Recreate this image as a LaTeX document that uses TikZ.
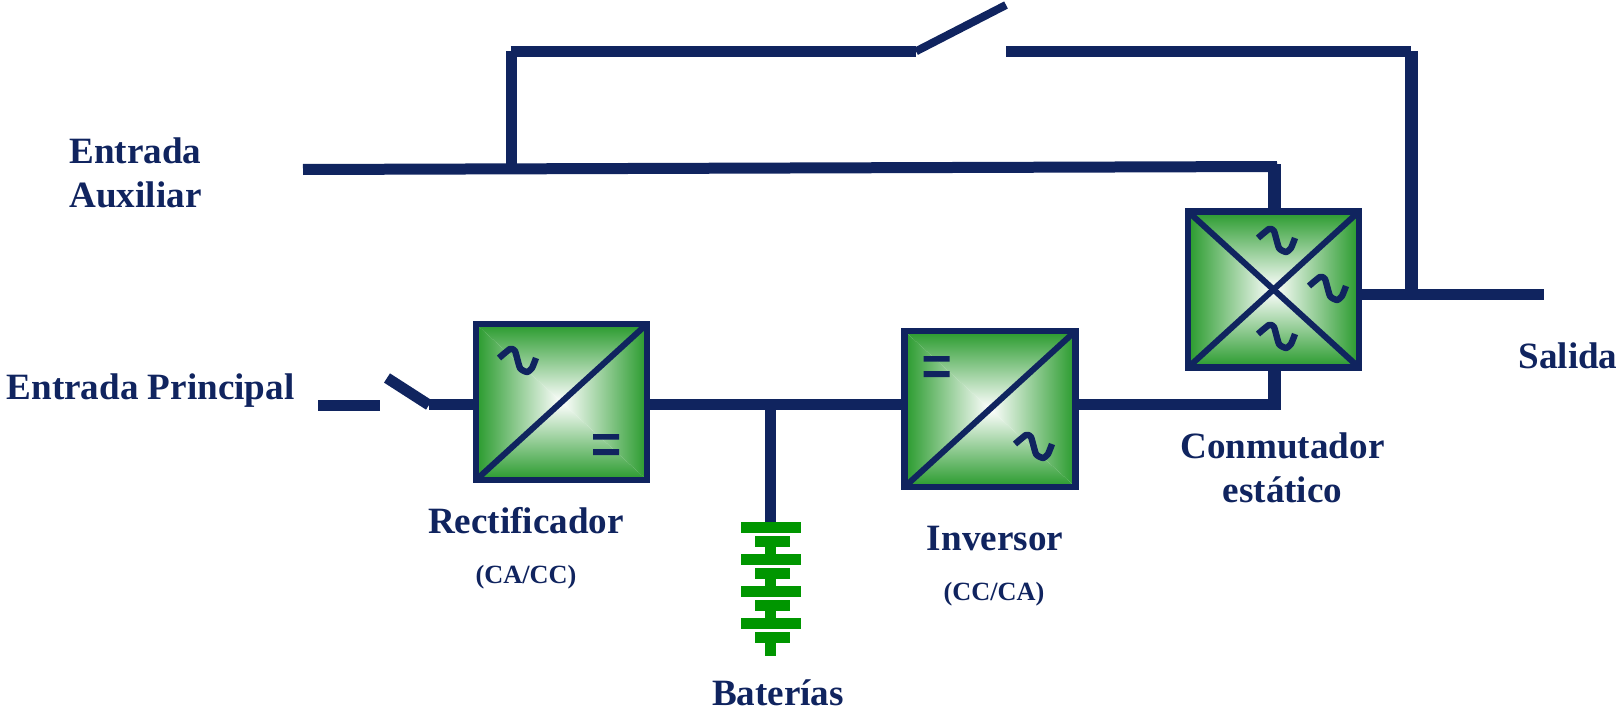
\documentclass[tikz,border=0pt]{standalone}
\usepackage{fontspec}
\setmainfont{Liberation Serif}
\definecolor{navy}{HTML}{10245F}
\definecolor{boxgreen}{HTML}{289A2C}
\colorlet{halfgreen}{boxgreen!60!white}
\definecolor{batgreen}{HTML}{009600}
\tikzset{
    wire/.style={draw=navy,line width=2.75mm},
    riser/.style={draw=navy,line width=3.25mm},
    convbox/.style={draw=navy,line width=1.6mm,outer sep=0pt,inner sep=0pt,
        minimum width=42.75mm,minimum height=39mm,
        path picture={
            \coordinate (nw) at (path picture bounding box.north west);
            \coordinate (ne) at (path picture bounding box.north east);
            \coordinate (sw) at (path picture bounding box.south west);
            \coordinate (se) at (path picture bounding box.south east);
            \coordinate (mid) at (path picture bounding box.center);
            \shade[top color=boxgreen,middle color=halfgreen,bottom color=white] (nw) -- (ne) -- (mid) -- cycle;
            \shade[top color=white,middle color=halfgreen,bottom color=boxgreen] (sw) -- (se) -- (mid) -- cycle;
            \shade[left color=boxgreen,middle color=halfgreen,right color=white] (nw) -- (sw) -- (mid) -- cycle;
            \shade[left color=white,middle color=halfgreen,right color=boxgreen] (ne) -- (se) -- (mid) -- cycle;
        }},
    diag/.style={draw=navy,line width=1.5mm},
    biglabel/.style={text=navy,font=\fontsize{26.4}{30}\selectfont\bfseries,align=center},
    smalllabel/.style={text=navy,font=\fontsize{18.7}{22}\selectfont\bfseries},
    acwave/.pic={\draw[navy,line width=1.6mm,line cap=butt,line join=round]
        plot[smooth,tension=0.35] coordinates {(-18,-2) (-7,-11) (-2,-9) (3,8) (10,12) (15,8) (19,-2)};},
    dcbars/.pic={\fill[navy] (-13,-10.5) rectangle (13,-5) (-13,4.5) rectangle (13,10.5);},
}
\begin{document}
\begin{tikzpicture}[x=0.25mm,y=-0.25mm]
    \useasboundingbox (0,0) rectangle (1619,716);
    % converters
    \node[convbox] (rect) at (561.5,402) {};
    \node[convbox] (inv) at (990,409) {};
    \node[convbox] (conm) at (1273.5,289.5) {};
    \draw[diag] (rect.south west) -- (rect.north east);
    \draw[diag] (inv.south west) -- (inv.north east);
    \draw[diag] (conm.south west) -- (conm.north east);
    \draw[diag] (conm.north west) -- (conm.south east);
    \pic at (517,360) {acwave}; \pic at (606,444.5) {dcbars};
    \pic at (936.5,366.5) {dcbars}; \pic at (1033,446) {acwave};
    \pic at (1276,240) {acwave}; \pic at (1327,288) {acwave}; \pic at (1276,336) {acwave};
    % points on the wires
    \coordinate (mainin) at (318,405);
    \coordinate (mainoff) at (380,405);
    \coordinate (swa) at (387,378);
    \coordinate (swb) at (429,405);
    \coordinate (busjoin) at (770.5,404.5);
    \coordinate (batend) at (770.5,522);
    \coordinate (auxin) at (303,169.5);
    \coordinate (auxjoin) at (511,168);
    \coordinate (auxend) at (1277,166.5);
    \coordinate (auxtop) at (1274.5,164);
    \coordinate (botend) at (1281,404.5);
    \coordinate (bottop) at (1274.5,410);
    \coordinate (bypasstop) at (511,50.7);
    \coordinate (bypass) at (510.7,51.3);
    \coordinate (swc) at (916,51.3);
    \coordinate (swd) at (1006,5);
    \coordinate (swe) at (1006,51.3);
    \coordinate (bypassr) at (1411,51.3);
    \coordinate (riserr) at (1411.5,51);
    \coordinate (outjoin) at (1411.5,294.5);
    \coordinate (outend) at (1544,294.5);
    % wires
    \draw[wire] (mainin) -- (mainoff);
    \draw[wire] (swa) -- (swb);
    \draw[wire] (swb |- busjoin) -- (rect.west |- busjoin);
    \draw[wire] (rect.east |- busjoin) -- (inv.west |- busjoin);
    \draw[wire] (inv.east |- botend) -- (botend);
    \draw[riser] (bottop) -- (conm.south -| bottop);
    \draw[wire] (busjoin) -- (batend);
    \draw[wire] (auxin) -- (auxend);
    \draw[riser] (auxtop) -- (conm.north -| auxtop);
    \draw[wire] (auxjoin) -- (bypasstop);
    \draw[wire] (bypass) -- (swc);
    \draw[wire,line width=2mm] (swc) -- (swd);
    \draw[wire] (swe) -- (bypassr);
    \draw[riser] (riserr) -- (outjoin);
    \draw[wire] (conm.east |- outend) -- (outend);
    % battery
    \foreach \y in {522,554,586,618} {
        \fill[batgreen] (741,\y) rectangle (801,\y+11);
        \fill[batgreen] (755,\y+14) rectangle (790,\y+25);
    }
    \foreach \y in {547,579,611} \fill[batgreen] (765,\y) rectangle (776,\y+8);
    \fill[batgreen] (765,643) rectangle (776,656);
    % labels
    \node[biglabel] (auxlabel) at (135.5,173) {Entrada\\[1.6pt]Auxiliar};
    \node[biglabel] (mainlabel) at (150.5,391) {Entrada Principal};
    \node[biglabel] (rectlabel) at (526,521) {Rectificador};
    \node[smalllabel] (rectsub) at (526,577) {(CA/CC)};
    \node[biglabel] (batlabel) at (778,693) {Baterías};
    \node[biglabel] (invlabel) at (995,539) {Inversor};
    \node[smalllabel] (invsub) at (994,594) {(CC/CA)};
    \node[biglabel] (conmlabel) at (1282.5,468) {Conmutador\\[1.6pt]estático};
    \node[biglabel] (outlabel) at (1568,356) {Salida};
\end{tikzpicture}
\end{document}
